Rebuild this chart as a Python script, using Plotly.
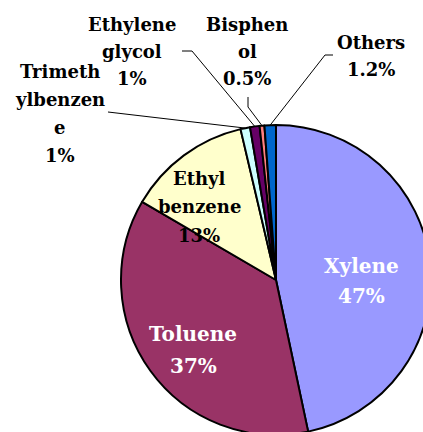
import math
import plotly.graph_objects as go

# ---- data ----
labels = ["Xylene", "Toluene", "Ethyl benzene", "Trimethylbenzene",
          "Ethylene glycol", "Bisphenol", "Others"]
values = [47, 37, 13, 1, 1, 0.5, 1.2]
pct_text = ["47%", "37%", "13%", "1%", "1%", "0.5%", "1.2%"]
colors = ["#9999FF", "#993366", "#FFFFCC", "#CCFFFF", "#660066", "#FF8080", "#0066CC"]

# ---- layout (pixel geometry) ----
W, H = 440, 440
CX, CY, R = 276, 280, 155
FONT = "DejaVu Serif, DejaVu Sans"


def px(x):
    return x / W


def py(y):
    return 1 - y / H


fig = go.Figure(go.Pie(
    labels=labels, values=values, sort=False, direction="clockwise", rotation=0,
    marker=dict(colors=colors, line=dict(color="black", width=2)),
    textinfo="none", hoverinfo="label+percent", showlegend=False,
    domain=dict(x=[px(CX - R), px(CX + R)], y=[py(CY + R), py(CY - R)]),
))

# label lines: (lines, x center, first line y, spacing, size, color)
label_specs = {
    "Xylene": (["Xylene", pct_text[0]], 361, 266, 30, 20, "white"),
    "Toluene": (["Toluene", pct_text[1]], 193, 334, 32, 20, "white"),
    "Ethyl benzene": (["Ethyl", "benzene", pct_text[2]], 199, 178, 28.5, 18, "black"),
    "Trimethylbenzene": (["Trimeth", "ylbenzen", "e", pct_text[3]], 60, 72, 27.7, 18, "black"),
    "Ethylene glycol": (["Ethylene", "glycol", pct_text[4]], 132, 24, 27.3, 18, "black"),
    "Bisphenol": (["Bisphen", "ol", pct_text[5]], 247, 24, 27.3, 18, "black"),
    "Others": (["Others", pct_text[6]], 371, 42, 28, 18, "black"),
}

annotations = []
for name, (lines, x, y0, sp, size, col) in label_specs.items():
    for i, t in enumerate(lines):
        annotations.append(dict(
            text="<b>" + t + "</b>", x=px(x), y=py(y0 + i * sp), xref="paper", yref="paper",
            showarrow=False, xanchor="center", yanchor="middle",
            font=dict(family=FONT, size=size, color=col),
        ))

# leader lines from label elbows to slice mid-points on the rim
total = sum(values)
cum = 0
mid_pts = {}
for name, v in zip(labels, values):
    a = 2 * math.pi * (cum + v / 2) / total
    mid_pts[name] = (CX + R * math.sin(a), CY - R * math.cos(a))
    cum += v

leader_elbows = {
    "Trimethylbenzene": [(108, 112)],
    "Ethylene glycol": [(182, 51), (192, 51)],
    "Bisphenol": [(248, 97), (248, 107)],
    "Others": [(333, 55), (325, 55)],
}
shapes = []
for name, pts in leader_elbows.items():
    allp = pts + [mid_pts[name]]
    path = "M " + " L ".join(f"{px(x):.5f},{py(y):.5f}" for x, y in allp)
    shapes.append(dict(type="path", path=path, xref="paper", yref="paper",
                       line=dict(color="black", width=1)))

fig.update_layout(
    width=W, height=H, margin=dict(l=0, r=0, t=0, b=0),
    paper_bgcolor="white", plot_bgcolor="white",
    font=dict(family=FONT),
    annotations=annotations, shapes=shapes,
)

fig.write_html(
    "out.html",
    config={"displayModeBar": False},
    post_script="document.body.style.margin='0';document.body.style.overflow='hidden';",
)
